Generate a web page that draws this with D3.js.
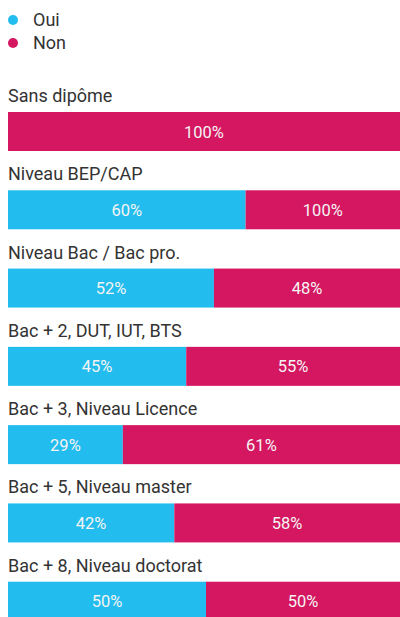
<!DOCTYPE html>
<html>
<head>
<meta charset="utf-8">
<script src="https://cdn.jsdelivr.net/npm/d3@7"></script>
<style>
  body { margin: 0; background: #fff; }
  svg { display: block; font-family: "Roboto", "Noto Sans", sans-serif; }
</style>
</head>
<body>
<div class="canvas"></div>
<script>
const width = 400;
const height = 617;

const categories = ["Sans dipôme", "Niveau BEP/CAP", "Niveau Bac / Bac pro.", "Bac + 2, DUT, IUT, BTS",
                    "Bac + 3, Niveau Licence", "Bac + 5, Niveau master", "Bac + 8, Niveau doctorat"]
const oui = [0, 60, 52, 45, 29, 42, 50]
const non = [100, 100, 48, 55, 61, 58, 50]
const series = ["Oui", "Non"]
const colors = ["#22bdee", "#d51762"]

const data = categories.map((c, i) => ({cat: c, oui: oui[i], non: non[i]}))

const svg = d3.select(".canvas")
                .append("svg")
                .attr("width", width)
                .attr("height", height)

// legend
const legend = svg.append("g")
legend.selectAll("circle")
    .data(series)
    .enter()
    .append("circle")
    .attr("cx", 13)
    .attr("cy", (d, i) => 20 + i * 23)
    .attr("r", 5)
    .attr("fill", (d, i) => colors[i])
legend.selectAll("text")
    .data(series)
    .enter()
    .append("text")
    .attr("x", 33)
    .attr("y", (d, i) => 26 + i * 23)
    .attr("font-size", 18)
    .attr("fill", "#333")
    .text(d => d)

const x = d3.scaleLinear()
            .domain([0, 100])
            .range([8, 404])

const y = d3.scaleBand()
            .domain(categories)
            .range([112, 660])
            .paddingInner(0)

const barH = 39

const rows = svg.selectAll("g.row")
                .data(data)
                .enter()
                .append("g")
                .attr("class", "row")
                .attr("transform", d => `translate(0, ${y(d.cat)})`)

rows.append("text")
    .attr("x", 8)
    .attr("y", -10)
    .attr("font-size", 18)
    .attr("fill", "#333")
    .text(d => d.cat)

// oui segment
rows.filter(d => d.oui > 0)
    .append("rect")
    .attr("x", x(0))
    .attr("width", d => x(d.oui) - x(0))
    .attr("height", barH)
    .attr("fill", colors[0])

// non segment fills the remainder
rows.append("rect")
    .attr("x", d => x(d.oui))
    .attr("width", d => x(100) - x(d.oui))
    .attr("height", barH)
    .attr("fill", colors[1])

rows.filter(d => d.oui > 0)
    .append("text")
    .attr("x", d => (x(0) + x(d.oui)) / 2)
    .attr("y", barH / 2 + 6)
    .attr("text-anchor", "middle")
    .attr("font-size", 16.5)
    .attr("fill", "#f4f4f4")
    .text(d => d.oui + "%")

rows.append("text")
    .attr("x", d => (x(d.oui) + Math.min(x(100), width)) / 2)
    .attr("y", barH / 2 + 6)
    .attr("text-anchor", "middle")
    .attr("font-size", 16.5)
    .attr("fill", "#f4f4f4")
    .text(d => d.non + "%")
</script>
</body>
</html>
